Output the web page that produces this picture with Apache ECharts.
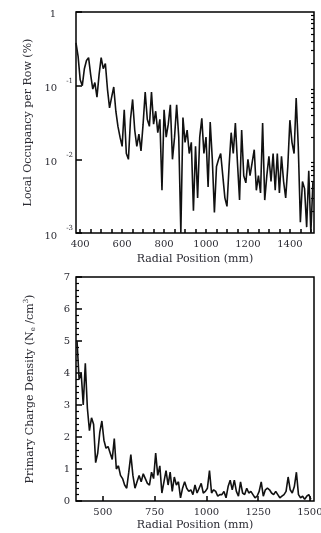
<!DOCTYPE html>
<html>
<head>
<meta charset="utf-8">
<script src="https://cdn.jsdelivr.net/npm/echarts@6/dist/echarts.min.js"></script>
<style>
  html, body { margin: 0; padding: 0; background: #fff; }
  #main { width: 321px; height: 533px; }
</style>
</head>
<body>
<div id="main"></div>
<script>
// radial positions (mm) of the occupancy bins, top panel
var occRadius = [380, 390, 400, 410, 420, 430, 440, 450, 460, 470, 480, 490, 500, 510, 520, 530, 540, 550, 560, 570,
    580, 590, 600, 610, 620, 630, 640, 650, 660, 670, 680, 690, 700, 710, 720, 730, 740, 750, 760, 770,
    780, 790, 800, 810, 820, 830, 840, 850, 860, 870, 880, 890, 900, 910, 920, 930, 940, 950, 960, 970,
    980, 990, 1000, 1010, 1020, 1030, 1040, 1050, 1060, 1070, 1080, 1090, 1100, 1110, 1120, 1130, 1140, 1150, 1160, 1170,
    1180, 1190, 1200, 1210, 1220, 1230, 1240, 1250, 1260, 1270, 1280, 1290, 1300, 1310, 1320, 1330, 1340, 1350, 1360, 1370,
    1380, 1390, 1400, 1410, 1420, 1430, 1440, 1450, 1460, 1470, 1480, 1490, 1500, 1510];
// local occupancy per row (%)
var occupancy = [0.38, 0.25, 0.12, 0.10, 0.17, 0.22, 0.24, 0.14, 0.09, 0.11, 0.07, 0.14, 0.24, 0.17, 0.20, 0.09, 0.05, 0.07, 0.096, 0.045,
    0.028, 0.02, 0.015, 0.047, 0.012, 0.01, 0.035, 0.065, 0.025, 0.015, 0.022, 0.013, 0.03, 0.082, 0.035, 0.028, 0.082, 0.03, 0.045, 0.023,
    0.035, 0.0038, 0.047, 0.02, 0.03, 0.055, 0.01, 0.02, 0.055, 0.02, 0.001, 0.037, 0.017, 0.025, 0.012, 0.017, 0.002, 0.015, 0.003, 0.02,
    0.036, 0.012, 0.02, 0.0042, 0.032, 0.01, 0.0019, 0.008, 0.01, 0.012, 0.006, 0.003, 0.0023, 0.008, 0.023, 0.012, 0.031, 0.009, 0.0028, 0.025,
    0.006, 0.0048, 0.01, 0.006, 0.009, 0.0135, 0.0038, 0.006, 0.0035, 0.031, 0.0028, 0.006, 0.011, 0.005, 0.012, 0.0038, 0.012, 0.0035, 0.011, 0.005,
    0.003, 0.008, 0.034, 0.017, 0.012, 0.068, 0.015, 0.0014, 0.005, 0.004, 0.0012, 0.007, 0.001, 0.005];

// radial positions (mm), bottom panel
var chargeRadius = [375, 385, 395, 405, 415, 425, 435, 445, 455, 465, 475, 485, 495, 505, 515, 525, 535, 545, 555, 565,
    575, 585, 595, 605, 615, 625, 635, 645, 655, 665, 675, 685, 695, 705, 715, 725, 735, 745, 755, 765,
    775, 785, 795, 805, 815, 825, 835, 845, 855, 865, 875, 885, 895, 905, 915, 925, 935, 945, 955, 965,
    975, 985, 995, 1005, 1015, 1025, 1035, 1045, 1055, 1065, 1075, 1085, 1095, 1105, 1115, 1125, 1135, 1145, 1155, 1165,
    1175, 1185, 1195, 1205, 1215, 1225, 1235, 1245, 1255, 1265, 1275, 1285, 1295, 1305, 1315, 1325, 1335, 1345, 1355, 1365,
    1375, 1385, 1395, 1405, 1415, 1425, 1435, 1445, 1455, 1465, 1475, 1485, 1495, 1505];
// primary charge density (Ne / cm3)
var chargeDensity = [5.0, 3.8, 4.0, 3.0, 4.3, 2.9, 2.2, 2.6, 2.4, 1.2, 1.5, 2.15, 2.5, 1.9, 1.65, 1.7, 1.5, 1.3, 1.95, 1.0,
    1.1, 0.8, 0.7, 0.5, 0.4, 0.9, 1.45, 0.8, 0.4, 0.6, 0.8, 0.6, 0.85, 0.7, 0.55, 0.5, 0.9, 0.7, 1.5, 0.8,
    1.1, 0.25, 0.6, 0.95, 0.5, 0.9, 0.3, 0.75, 0.5, 0.6, 0.1, 0.4, 0.6, 0.4, 0.3, 0.35, 0.2, 0.5, 0.25, 0.4,
    0.55, 0.25, 0.3, 0.4, 0.95, 0.25, 0.35, 0.3, 0.15, 0.2, 0.2, 0.3, 0.1, 0.45, 0.65, 0.35, 0.65, 0.3, 0.15, 0.6,
    0.25, 0.2, 0.4, 0.25, 0.3, 0.2, 0.1, 0.15, 0.3, 0.6, 0.15, 0.35, 0.4, 0.35, 0.25, 0.2, 0.3, 0.2, 0.1, 0.15,
    0.2, 0.3, 0.75, 0.35, 0.25, 0.45, 0.9, 0.2, 0.1, 0.15, 0.05, 0.15, 0.2, 0.05];

var topTicks = [400, 450, 500, 550, 600, 650, 700, 750, 800, 850, 900, 950, 1000, 1050, 1100, 1150, 1200, 1250, 1300, 1350, 1400, 1450, 1500];
var topLabels = [400, 600, 800, 1000, 1200, 1400];
var bottomLabels = [500, 750, 1000, 1250, 1500];
var logMajor = [0.001, 0.01, 0.1, 1];
var logMinor = [0.002, 0.003, 0.004, 0.005, 0.006, 0.007, 0.008, 0.009,
    0.02, 0.03, 0.04, 0.05, 0.06, 0.07, 0.08, 0.09,
    0.2, 0.3, 0.4, 0.5, 0.6, 0.7, 0.8, 0.9];

var font = 'DejaVu Serif';
var ink = '#2b2b33';

var chart = echarts.init(document.getElementById('main'));

function pairs(xs, ys) {
    return xs.map(function (x, i) { return [x, ys[i]]; });
}
function plain(v) {
    return String(v);
}

var option = {
    animation: false,
    backgroundColor: '#fff',
    textStyle: {fontFamily: font, color: ink},
    grid: [
        {left: 76, right: 7, top: 12, height: 221, show: true, borderColor: '#000', borderWidth: 1.5, outerBoundsMode: 'none'},
        {left: 76, right: 7, top: 277, height: 224, show: true, borderColor: '#000', borderWidth: 1.5, outerBoundsMode: 'none'}
    ],
    xAxis: [
        {
            type: 'value', gridIndex: 0, min: 380, max: 1515,
            name: 'Radial Position (mm)', nameLocation: 'middle', nameGap: 21,
            nameTextStyle: {fontFamily: font, fontSize: 11, color: ink},
            axisLine: {show: false},
            splitLine: {show: false},
            axisTick: {inside: true, length: 4, customValues: topTicks, lineStyle: {color: '#000', width: 1.5}},
            axisLabel: {customValues: topLabels, margin: 6, fontFamily: font, fontSize: 10, color: ink, formatter: plain}
        },
        {
            type: 'value', gridIndex: 1, min: 370, max: 1520,
            name: 'Radial Position (mm)', nameLocation: 'middle', nameGap: 19,
            nameTextStyle: {fontFamily: font, fontSize: 11, color: ink},
            axisLine: {show: false},
            splitLine: {show: false},
            axisTick: {inside: true, length: 5, customValues: bottomLabels, lineStyle: {color: '#000', width: 1.5}},
            axisLabel: {customValues: bottomLabels, margin: 6, fontFamily: font, fontSize: 10, color: ink, formatter: plain}
        }
    ],
    yAxis: [
        {
            type: 'log', gridIndex: 0, min: 0.001, max: 1, logBase: 10,
            name: 'Local Occupancy per Row (%)', nameLocation: 'middle', nameGap: 42,
            nameTextStyle: {fontFamily: font, fontSize: 11, color: ink},
            axisLine: {show: false},
            splitLine: {show: false},
            axisTick: {inside: true, length: 6, customValues: logMajor, lineStyle: {color: '#000', width: 1.5}},
            axisLabel: {
                customValues: logMajor, margin: 3, fontFamily: font, fontSize: 10, color: ink,
                formatter: function (v) {
                    if (v >= 0.99) return '{b|1}{gap|}';
                    var e = Math.round(Math.log(v) / Math.LN10);
                    return '{b|10}{s|' + e + '}';
                },
                rich: {
                    b: {fontFamily: font, fontSize: 10, color: ink, lineHeight: 14, verticalAlign: 'bottom'},
                    s: {fontFamily: font, fontSize: 7, color: ink, padding: [0, 0, 9, 9], verticalAlign: 'bottom'},
                    gap: {width: 17}
                }
            }
        },
        {
            type: 'log', gridIndex: 0, min: 0.001, max: 1, logBase: 10,
            axisLine: {show: false},
            splitLine: {show: false},
            axisLabel: {show: false},
            axisTick: {inside: true, length: 3, customValues: logMinor, lineStyle: {color: '#000', width: 1.2}}
        },
        {
            type: 'value', gridIndex: 1, min: 0, max: 7, interval: 1,
            name: '{t|Primary Charge Density (N}{sub|e}{t| /cm}{sup|3}{t|)}', nameLocation: 'middle', nameGap: 39,
            nameTextStyle: {
                fontFamily: font, fontSize: 11, color: ink,
                rich: {
                    t: {fontFamily: font, fontSize: 11, color: ink},
                    sub: {fontFamily: font, fontSize: 7, color: ink, padding: [6, 0, 0, 0]},
                    sup: {fontFamily: font, fontSize: 7, color: ink, padding: [0, 0, 7, 0]}
                }
            },
            axisLine: {show: false},
            splitLine: {show: false},
            axisTick: {inside: true, length: 6, lineStyle: {color: '#000', width: 1.5}},
            minorTick: {show: true, splitNumber: 5, length: 3, lineStyle: {color: '#000', width: 1.2}},
            minorSplitLine: {show: false},
            axisLabel: {margin: 6, fontFamily: font, fontSize: 10, color: ink}
        }
    ],
    series: [
        {
            type: 'line', xAxisIndex: 0, yAxisIndex: 0,
            data: pairs(occRadius, occupancy),
            symbol: 'none', lineStyle: {color: '#111', width: 1.6}
        },
        {
            type: 'line', xAxisIndex: 1, yAxisIndex: 2,
            data: pairs(chargeRadius, chargeDensity),
            symbol: 'none', lineStyle: {color: '#111', width: 1.6}
        }
    ]
};

chart.setOption(option);
</script>
</body>
</html>
